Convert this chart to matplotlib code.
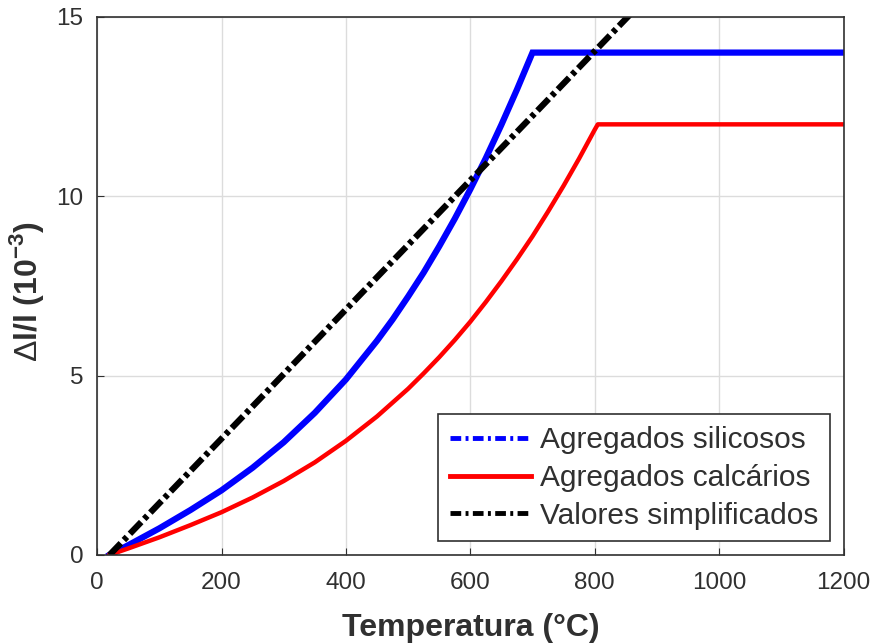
import matplotlib
matplotlib.use('Agg')
import matplotlib.pyplot as plt
from matplotlib.lines import Line2D

# temperaturas (°C) e alongamento relativo (10^-3)
temp_sil = [20, 50, 100, 150, 200, 250, 300, 350, 400, 450, 475, 500, 525, 550, 575,
            600, 625, 650, 675, 700, 1200]
dl_sil = [0.0, 0.27, 0.74, 1.25, 1.80, 2.43, 3.14, 3.96, 4.89, 5.97, 6.56, 7.20, 7.87,
          8.60, 9.37, 10.19, 11.06, 11.99, 12.97, 14.0, 14.0]

temp_cal = [20, 50, 100, 150, 200, 250, 300, 350, 400, 450, 500, 525, 550, 575, 600,
            625, 650, 675, 700, 725, 750, 775, 800, 805, 1200]
dl_cal = [0.0, 0.18, 0.49, 0.83, 1.19, 1.60, 2.06, 2.58, 3.18, 3.86, 4.63, 5.06, 5.51,
          5.99, 6.50, 7.05, 7.63, 8.24, 8.88, 9.57, 10.29, 11.05, 11.85, 12.0, 12.0]

temp_simp = [20, 870]
dl_simp = [0.0, 15.3]

labels = ['Agregados silicosos', 'Agregados calcários', 'Valores simplificados']
x_ticks = [0, 200, 400, 600, 800, 1000, 1200]
y_ticks = [0, 5, 10, 15]

plt.rcParams['font.family'] = ['Liberation Sans', 'DejaVu Sans']
plt.rcParams['mathtext.fontset'] = 'custom'
plt.rcParams['mathtext.rm'] = 'Liberation Sans'
plt.rcParams['mathtext.bf'] = 'Liberation Sans:bold'
txt_col = '#303030'
dash_dot = (0, (2.6, 0.7, 0.7, 0.7))

fig = plt.figure(figsize=(8.75, 6.43), dpi=100)
ax = fig.add_axes([0.111, 0.137, 0.853, 0.837])

ax.plot(temp_sil, dl_sil, color='blue', lw=4.5, solid_joinstyle='miter')
ax.plot(temp_cal, dl_cal, color='red', lw=3.2)
ax.plot(temp_simp, dl_simp, color='black', lw=4.5, ls=dash_dot)

ax.set_xlim(0, 1200)
ax.set_ylim(0, 15)
ax.set_xticks(x_ticks)
ax.set_yticks(y_ticks)
ax.grid(True, color='#dcdcdc', lw=1)
ax.set_axisbelow(True)
ax.tick_params(direction='in', length=5, labelsize=17.5, colors=txt_col, pad=10)
ax.tick_params(axis='x', pad=12)
for s in ax.spines.values():
    s.set_color(txt_col)
    s.set_linewidth(1.2)

ax.set_xlabel('Temperatura (°C)', fontsize=23, fontweight='bold', color=txt_col, labelpad=14)
ax.set_ylabel('$\\Delta$l/l (10$^{\\mathbf{-3}}$)', fontsize=23, fontweight='bold',
              color=txt_col)
ax.yaxis.set_label_coords(-0.068, 0.49)

# legenda: linha azul aparece tracejada na legenda
handles = [Line2D([], [], color='blue', lw=3.5, ls=(0, (2.2, 0.9, 0.6, 0.9))),
           Line2D([], [], color='red', lw=3.5),
           Line2D([], [], color='black', lw=3.5, ls=(0, (2.2, 0.9, 0.6, 0.9)))]
leg = ax.legend(handles, labels, loc='lower right', fontsize=21.5, frameon=True,
                fancybox=False, edgecolor=txt_col, framealpha=1,
                handlelength=2.7, handletextpad=0.3, borderaxespad=0.45,
                labelspacing=0.32, borderpad=0.4)
leg.get_frame().set_linewidth(1.2)
for t in leg.get_texts():
    t.set_color(txt_col)

fig.savefig('out.png', dpi=100)
